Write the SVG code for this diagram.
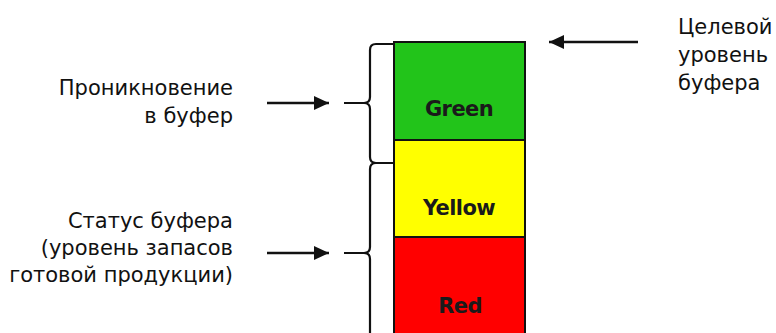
<svg xmlns="http://www.w3.org/2000/svg" width="776" height="333" viewBox="0 0 776 333">
  <style>
    .lbl { font-family: "DejaVu Sans", "Liberation Sans", sans-serif; font-size: 21px; fill: #111; }
    .zone { font-family: "DejaVu Sans", "Liberation Sans", sans-serif; font-size: 21px; font-weight: bold; fill: #1a1a1a; text-anchor: middle; letter-spacing: -0.6px; }
    .box { stroke: #111; stroke-width: 2; }
    .brace { fill: none; stroke: #111; stroke-width: 2.2; stroke-linejoin: round; }
    .arrow { fill: none; stroke: #111; stroke-width: 2.6; marker-end: url(#ah); }
  </style>
  <defs>
    <marker id="ah" markerUnits="userSpaceOnUse" markerWidth="16" markerHeight="14" refX="15" refY="7" orient="auto">
      <path d="M0,0 L15,7 L0,14 Z" fill="#111"/>
    </marker>
  </defs>
  <rect width="776" height="333" fill="#fff"/>

  <g id="buffer-green">
    <rect class="box" x="394" y="42" width="131" height="98" fill="#22c41a"/>
    <text class="zone" x="459" y="116">Green</text>
  </g>
  <g id="buffer-yellow">
    <rect class="box" x="394" y="140" width="131" height="97" fill="#ffff00"/>
    <text class="zone" x="459" y="215">Yellow</text>
  </g>
  <g id="buffer-red">
    <rect class="box" x="394" y="237" width="131" height="110" fill="#ff0000"/>
    <text class="zone" x="460" y="313">Red</text>
  </g>

  <g id="label-penetration">
    <text class="lbl" text-anchor="end" x="233" y="95">Проникновение</text>
    <text class="lbl" text-anchor="end" x="233" y="123">в буфер</text>
  </g>
  <g id="label-status">
    <text class="lbl" text-anchor="end" x="233" y="228">Статус буфера</text>
    <text class="lbl" text-anchor="end" x="233" y="255">(уровень запасов</text>
    <text class="lbl" text-anchor="end" x="233" y="282">готовой продукции)</text>
  </g>
  <g id="label-target">
    <text class="lbl" x="678" y="34">Целевой</text>
    <text class="lbl" x="678" y="62">уровень</text>
    <text class="lbl" x="678" y="90">буфера</text>
  </g>

  <g id="connectors">
    <path class="brace" d="M393,44 L376,44 Q370,44 370,50 L370,97 Q370,103 364,103 L344,103 M364,103 Q370,103 370,109 L370,157 Q370,163 376,163 L393,163"/>
    <path class="brace" d="M393,163 L376,163 Q370,163 370,169 L370,247 Q370,253 364,253 L344,253 M364,253 Q370,253 370,259 L370,345"/>
    <line class="arrow" x1="267" y1="103" x2="329" y2="103"/>
    <line class="arrow" x1="267" y1="253" x2="329" y2="253"/>
    <line class="arrow" x1="638" y1="42" x2="549" y2="42"/>
  </g>
</svg>
